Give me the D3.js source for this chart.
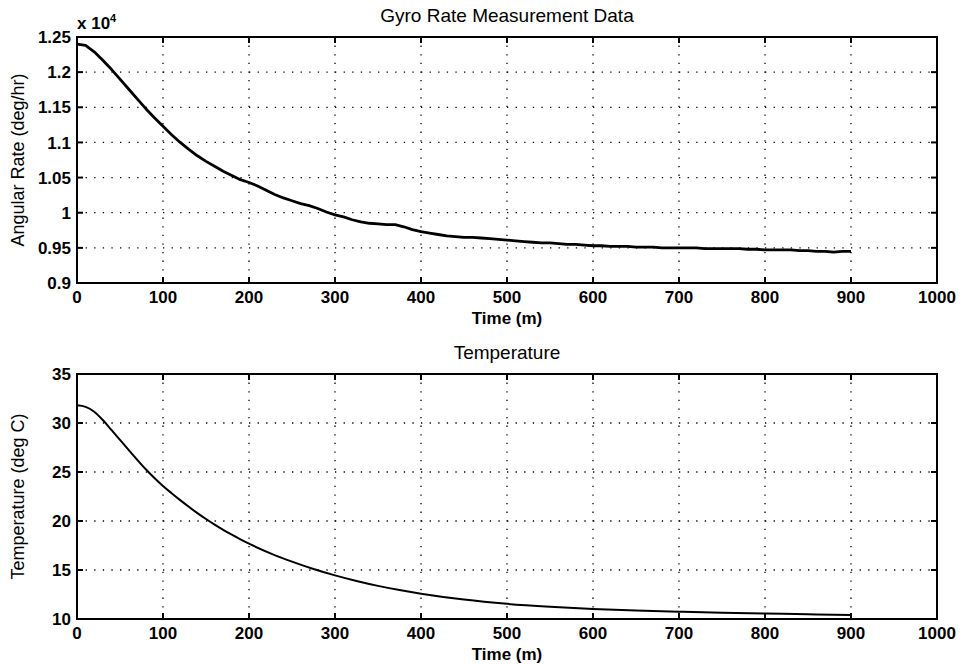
<!DOCTYPE html>
<html>
<head>
<meta charset="utf-8">
<script src="https://cdn.jsdelivr.net/npm/d3@7"></script>
<style>
body { margin: 0; background: #fff; }
text { font-family: "Liberation Sans", Arial, sans-serif; fill: #000; }
.tick-label { font-size: 17px; font-weight: bold; }
.title { font-size: 19px; }
.xlabel { font-size: 17px; font-weight: bold; }
.ylabel { font-size: 18px; }
.grid { stroke: #000; stroke-width: 1.3; stroke-dasharray: 1.3,7.3; }
.frame { fill: none; stroke: #000; stroke-width: 2; }
.tickmark { stroke: #000; stroke-width: 2; }
</style>
</head>
<body>
<script>
// gyro rate (x 10^4 deg/hr), sampled every 10 minutes
var gyroTime = d3.range(0, 901, 10);
var gyroRate = [
    1.240, 1.238, 1.229, 1.217, 1.204, 1.190, 1.176, 1.162, 1.148, 1.135,
    1.123, 1.111, 1.100, 1.090, 1.081, 1.073, 1.066, 1.059, 1.053, 1.047,
    1.043, 1.038, 1.032, 1.026, 1.021, 1.017, 1.013, 1.010, 1.006, 1.001,
    0.997, 0.994, 0.990, 0.987, 0.985, 0.984, 0.983, 0.983, 0.980, 0.976,
    0.973, 0.971, 0.969, 0.967, 0.966, 0.965, 0.965, 0.964, 0.963, 0.962,
    0.961, 0.960, 0.959, 0.958, 0.957, 0.957, 0.956, 0.955, 0.955, 0.954,
    0.953, 0.953, 0.952, 0.952, 0.952, 0.951, 0.951, 0.951, 0.950, 0.950,
    0.950, 0.950, 0.950, 0.949, 0.949, 0.949, 0.949, 0.949, 0.948, 0.948,
    0.947, 0.947, 0.947, 0.947, 0.946, 0.946, 0.945, 0.945, 0.944, 0.945,
    0.945
];

// temperature (deg C)
var tempTime = [0, 10, 20, 30, 40, 50, 60, 70, 80, 90, 100, 110, 120, 130, 140, 150, 160, 170, 180, 190, 200,
    225, 250, 275, 300, 325, 350, 375, 400, 450, 500, 550, 600, 650, 700, 750, 800, 850, 900];
var tempValue = [31.8, 31.65, 31.15, 30.3, 29.3, 28.28, 27.26, 26.25, 25.28, 24.39, 23.58, 22.84, 22.13, 21.45, 20.8, 20.2, 19.63, 19.1, 18.6, 18.13, 17.69,
    16.7, 15.85, 15.1, 14.45, 13.88, 13.38, 12.95, 12.58, 11.98, 11.55, 11.25, 11.02, 10.86, 10.74, 10.64, 10.56, 10.48, 10.42];

var xTicks = [0, 100, 200, 300, 400, 500, 600, 700, 800, 900, 1000];
var gyroTicks = [0.9, 0.95, 1, 1.05, 1.1, 1.15, 1.2, 1.25];
var tempTicks = [10, 15, 20, 25, 30, 35];

var width = 963, height = 664;
var left = 77, right = 937;

var svg = d3.select("body").append("svg")
    .attr("width", width)
    .attr("height", height);

var x = d3.scaleLinear().domain([0, 1000]).range([left, right]);

function panel(top, bottom, yDomain, yTicks, yFmt, title, ylabel, times, values, lineWidth, curve) {
    var y = d3.scaleLinear().domain(yDomain).range([bottom, top]);
    var g = svg.append("g");

    // dotted grid
    g.selectAll(".gx").data(xTicks.slice(1, -1)).enter().append("line")
        .attr("class", "grid")
        .attr("x1", function(d) { return x(d); }).attr("x2", function(d) { return x(d); })
        .attr("y1", top).attr("y2", bottom);
    g.selectAll(".gy").data(yTicks.slice(1, -1)).enter().append("line")
        .attr("class", "grid")
        .attr("y1", function(d) { return y(d); }).attr("y2", function(d) { return y(d); })
        .attr("x1", left).attr("x2", right);

    // data line
    var line = d3.line()
        .x(function(d, i) { return x(times[i]); })
        .y(function(d) { return y(d); })
        .curve(curve);
    g.append("path")
        .datum(values)
        .attr("fill", "none")
        .attr("stroke", "#000")
        .attr("stroke-width", lineWidth)
        .attr("stroke-linejoin", "round")
        .attr("d", line);

    // inward tick marks on all four sides
    var tl = 6;
    xTicks.forEach(function(d) {
        g.append("line").attr("class", "tickmark")
            .attr("x1", x(d)).attr("x2", x(d)).attr("y1", bottom).attr("y2", bottom - tl);
        g.append("line").attr("class", "tickmark")
            .attr("x1", x(d)).attr("x2", x(d)).attr("y1", top).attr("y2", top + tl);
    });
    yTicks.forEach(function(d) {
        g.append("line").attr("class", "tickmark")
            .attr("x1", left).attr("x2", left + tl).attr("y1", y(d)).attr("y2", y(d));
        g.append("line").attr("class", "tickmark")
            .attr("x1", right).attr("x2", right - tl).attr("y1", y(d)).attr("y2", y(d));
    });

    g.append("rect").attr("class", "frame")
        .attr("x", left).attr("y", top)
        .attr("width", right - left).attr("height", bottom - top);

    // tick labels
    g.selectAll(".xl").data(xTicks).enter().append("text")
        .attr("class", "tick-label")
        .attr("x", function(d) { return x(d); })
        .attr("y", bottom + 20)
        .attr("text-anchor", "middle")
        .text(function(d) { return d; });
    g.selectAll(".yl").data(yTicks).enter().append("text")
        .attr("class", "tick-label")
        .attr("x", left - 6)
        .attr("y", function(d) { return y(d); })
        .attr("dy", "0.36em")
        .attr("text-anchor", "end")
        .text(yFmt);

    g.append("text").attr("class", "title")
        .attr("x", (left + right) / 2).attr("y", top - 15)
        .attr("text-anchor", "middle")
        .text(title);
    g.append("text").attr("class", "xlabel")
        .attr("x", (left + right) / 2).attr("y", bottom + 41)
        .attr("text-anchor", "middle")
        .text("Time (m)");
    g.append("text").attr("class", "ylabel")
        .attr("transform", "translate(24," + ((top + bottom) / 2) + ") rotate(-90)")
        .attr("text-anchor", "middle")
        .text(ylabel);
    return g;
}

var top1 = panel(37, 283, [0.9, 1.25], gyroTicks, function(d) { return d3.format("")(+d.toFixed(2)); },
    "Gyro Rate Measurement Data", "Angular Rate (deg/hr)", gyroTime, gyroRate, 2.8, d3.curveLinear);

// exponent label
var ex = top1.append("text").attr("class", "tick-label")
    .attr("x", left).attr("y", 29);
ex.append("tspan").text("x 10");
ex.append("tspan").attr("dy", -7).style("font-size", "11px").text("4");

panel(374, 619, [10, 35], tempTicks, function(d) { return d; },
    "Temperature", "Temperature (deg C)", tempTime, tempValue, 2, d3.curveMonotoneX);
</script>
</body>
</html>
